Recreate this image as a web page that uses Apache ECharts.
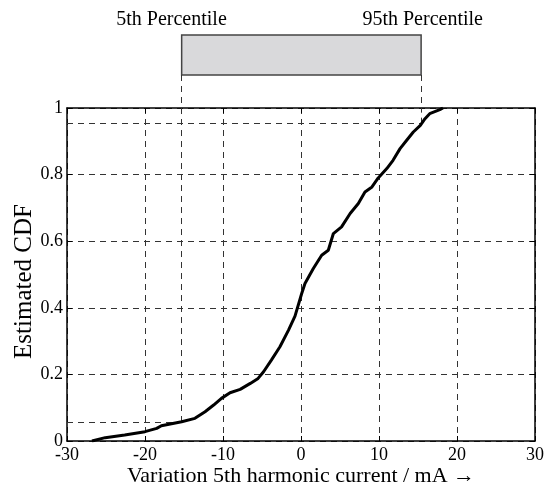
<!DOCTYPE html>
<html>
<head>
<meta charset="utf-8">
<script src="https://cdn.jsdelivr.net/npm/echarts@6/dist/echarts.min.js"></script>
<style>html,body{margin:0;padding:0;background:#fff}#c{width:552px;height:491px}</style>
</head>
<body>
<div id="c"></div>
<script>
// Data
const cdfX = [-26.8,-25.1,-22.6,-20.0,-18.5,-17.9,-15.3,-13.6,-12.3,-11.2,-10.2,-9.1,-7.8,-6.5,-5.5,-4.8,-3.8,-2.7,-1.6,-0.77,0.09,0.51,1.58,2.65,3.5,4.15,5.2,6.3,7.35,8.2,9.1,9.9,11.0,11.8,12.7,13.55,14.4,15.3,15.9,16.5,17.8,18.2];
const cdfY = [0,0.01,0.018,0.028,0.038,0.046,0.058,0.068,0.088,0.108,0.128,0.145,0.155,0.173,0.188,0.208,0.243,0.283,0.333,0.375,0.443,0.473,0.518,0.558,0.573,0.623,0.643,0.683,0.713,0.748,0.763,0.790,0.818,0.843,0.878,0.903,0.928,0.948,0.968,0.983,0.995,1.0];
const pctX = [-15.3, 15.4];      // 5th, 95th percentile values
const pctY = [0.057, 0.953];     // CDF levels
const pctLabels = ['5th Percentile', '95th Percentile'];
const pctLabelX = [-16.6, 15.6];
const xTicks = [-30, -20, -10, 0, 10, 20, 30];
const yTicks = [0, 0.2, 0.4, 0.6, 0.8, 1];

const FONT = 'Liberation Serif';
const dashStyle = {color: '#333', width: 1, type: [6, 5]};
const chart = echarts.init(document.getElementById('c'), null, {renderer: 'canvas'});
const curve = cdfX.map((x, i) => [x, cdfY[i]]);

chart.setOption({
  animation: false,
  grid: [
    {left: 67, right: 17, top: 108, bottom: 50, show: false, containLabel: false, outerBoundsMode: 'none'},
    {left: 67, right: 17, top: 0, height: 108, show: false, containLabel: false, outerBoundsMode: 'none'}
  ],
  xAxis: [
    {gridIndex: 0, type: 'value', min: xTicks[0], max: xTicks[xTicks.length-1], interval: 10,
     axisLine: {show: true, onZero: false, lineStyle: {color: '#000', width: 1.5}},
     axisTick: {show: true, inside: true, length: 5, lineStyle: {color: '#000'}},
     axisLabel: {color: '#000', fontFamily: FONT, fontSize: 18, margin: 5},
     splitLine: {show: true, lineStyle: dashStyle},
     name: 'Variation 5th harmonic current / mA \u2192', nameLocation: 'middle', nameGap: 24, nameMoveOverlap: false,
     nameTextStyle: {color: '#000', fontFamily: FONT, fontSize: 22}},
    {gridIndex: 0, type: 'value', position: 'top', min: -30, max: 30, interval: 10,
     axisLine: {show: true, onZero: false, lineStyle: {color: '#000', width: 1.5}},
     axisTick: {show: true, inside: true, length: 5, lineStyle: {color: '#000'}},
     axisLabel: {show: false}, splitLine: {show: false}},
    {gridIndex: 1, type: 'value', min: -30, max: 30, show: false}
  ],
  yAxis: [
    {gridIndex: 0, type: 'value', min: 0, max: 1, interval: 0.2,
     axisLine: {show: true, onZero: false, lineStyle: {color: '#000', width: 1.5}},
     axisTick: {show: true, inside: true, length: 5, lineStyle: {color: '#000'}},
     axisLabel: {color: '#000', fontFamily: FONT, fontSize: 18, margin: 4},
     splitLine: {show: true, lineStyle: dashStyle},
     name: 'Estimated CDF', nameLocation: 'middle', nameGap: 30, nameMoveOverlap: false,
     nameTextStyle: {color: '#000', fontFamily: FONT, fontSize: 25, padding: [0, 14, 0, 0]}},
    {gridIndex: 0, type: 'value', position: 'right', min: 0, max: 1, interval: 0.2,
     axisLine: {show: true, onZero: false, lineStyle: {color: '#000', width: 1.5}},
     axisTick: {show: true, inside: true, length: 5, lineStyle: {color: '#000'}},
     axisLabel: {show: false}, splitLine: {show: false}},
    {gridIndex: 1, type: 'value', min: 0, max: 108, inverse: true, show: false}
  ],
  series: [
    {type: 'line', xAxisIndex: 0, yAxisIndex: 0, data: curve, showSymbol: false, symbol: 'none',
     lineStyle: {color: '#000', width: 3}, z: 5,
     markLine: {silent: true, symbol: 'none', label: {show: false}, lineStyle: dashStyle,
       data: [
         [{coord: [xTicks[0], pctY[0]]}, {coord: [pctX[0], pctY[0]]}],
         [{coord: [xTicks[0], pctY[1]]}, {coord: [pctX[1], pctY[1]]}],
         [{coord: [pctX[0], pctY[0]]}, {coord: [pctX[0], 1]}],
         [{coord: [pctX[1], pctY[1]]}, {coord: [pctX[1], 1]}]
       ]}},
    {type: 'scatter', xAxisIndex: 2, yAxisIndex: 2, symbolSize: 0, itemStyle: {opacity: 1},
     data: pctLabels.map((t, i) => ({value: [pctLabelX[i], 19.5], name: t})),
     label: {show: true, position: 'inside', formatter: p => p.name, color: '#000', opacity: 1, fontFamily: FONT, fontSize: 20},
     markArea: {silent: true, itemStyle: {color: '#d9d9db', borderColor: '#444', borderWidth: 1.5, opacity: 1},
       data: [[{coord: [pctX[0], 35]}, {coord: [pctX[1], 75]}]]},
     markLine: {silent: true, symbol: 'none', label: {show: false}, lineStyle: dashStyle,
       data: [
         [{coord: [pctX[0], 75]}, {coord: [pctX[0], 108]}],
         [{coord: [pctX[1], 75]}, {coord: [pctX[1], 108]}]
       ]}}
  ]
});
</script>
</body>
</html>
